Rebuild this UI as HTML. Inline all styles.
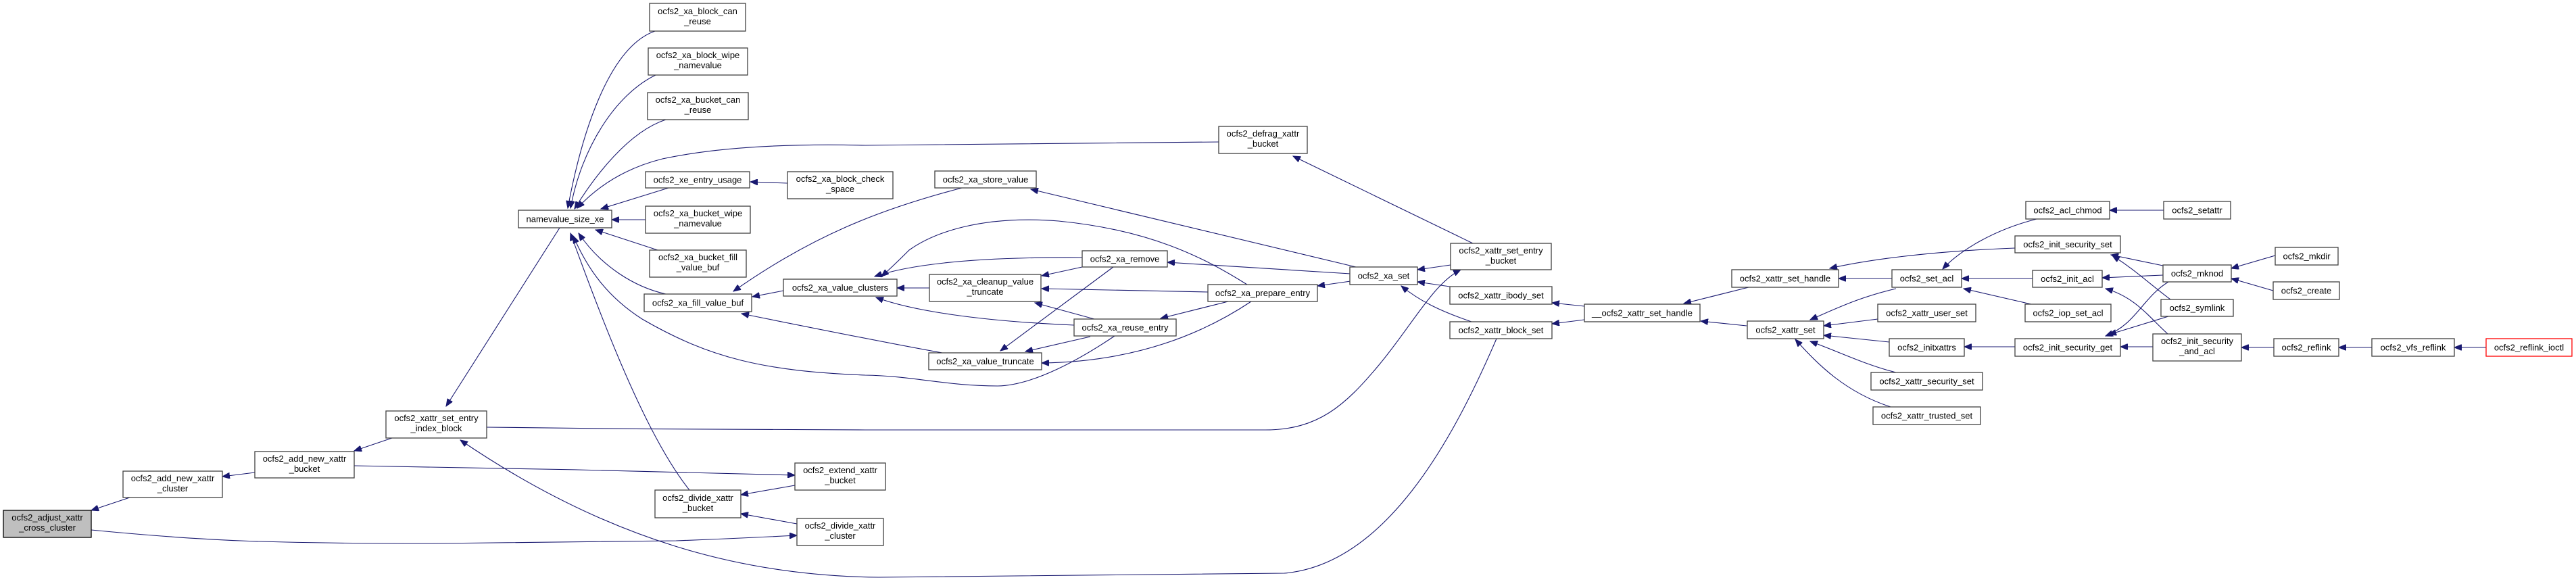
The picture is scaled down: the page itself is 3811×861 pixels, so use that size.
<!DOCTYPE html>
<html><head><meta charset="utf-8"><style>
html,body{margin:0;padding:0;background:#fff;}
svg{display:block;}
text{font-family:"Liberation Sans",Arial,sans-serif;font-size:13px;fill:#000;text-anchor:middle;}
.n{fill:#fff;stroke:#404040;stroke-width:1.3;}
.e{fill:none;stroke:#191970;stroke-width:1.1;marker-end:url(#a);}
</style></head><body>
<svg width="3811" height="861" viewBox="0 0 3811 861" xmlns="http://www.w3.org/2000/svg">
<defs><marker id="a" markerUnits="userSpaceOnUse" markerWidth="12" markerHeight="9" refX="11" refY="4.5" orient="auto"><path d="M0,0 L11,4.5 L0,9 z" fill="#191970" stroke="#191970"/></marker></defs>
<g>
<path class="e" d="M192,736 L135,755"/>
<path class="e" d="M135,784 C300,800 392,804 640,804 L1000,800 C1080,797 1140,794 1179,792"/>
<path class="e" d="M377,699 L329,705"/>
<path class="e" d="M580,648 L524,667"/>
<path class="e" d="M524,689 C700,691 1000,698 1176,703"/>
<path class="e" d="M720,632 C900,635 1200,636 1280,636 L1872,636 C1950,636 1990,600 2040,540 C2090,480 2120,420 2161,399"/>
<path class="e" d="M2214,501 C2150,650 2050,835 1900,848 L1300,854 C1100,852 900,800 681,651"/>
<path class="e" d="M828,337 L660,601"/>
<path class="e" d="M969,46 C900,70 860,200 840,308"/>
<path class="e" d="M970,111 C910,140 860,220 844,308"/>
<path class="e" d="M985,177 C930,195 880,260 850,309"/>
<path class="e" d="M1803,210 L1280,215 C1150,212 1050,220 980,235 C920,250 880,280 854,308"/>
<path class="e" d="M989,278 L889,309"/>
<path class="e" d="M1165,271 L1110,269"/>
<path class="e" d="M955,325 L905,325"/>
<path class="e" d="M973,370 L881,340"/>
<path class="e" d="M985,435 C940,425 890,395 856,345"/>
<path class="e" d="M1649,497 C1600,530 1530,570 1476,571 C1400,571 1350,556 1280,555 C1130,549 1050,530 950,472 C900,440 870,400 848,349"/>
<path class="e" d="M1020,725 C960,650 900,500 844,345"/>
<path class="e" d="M1423,278 C1300,310 1200,350 1085,431"/>
<path class="e" d="M1159,430 L1113,439"/>
<path class="e" d="M1394,522 Q1300,505 1097,464"/>
<path class="e" d="M1375,426 L1327,426"/>
<path class="e" d="M1601,381 C1450,380 1350,390 1294,409"/>
<path class="e" d="M1845,421 C1780,380 1700,340 1566,327 C1450,318 1380,345 1345,370 C1325,390 1312,402 1304,409"/>
<path class="e" d="M1589,481 C1450,475 1350,460 1296,440"/>
<path class="e" d="M1601,395 L1541,408"/>
<path class="e" d="M1787,432 L1541,427"/>
<path class="e" d="M1619,472 L1531,448"/>
<path class="e" d="M1647,395 L1480,519"/>
<path class="e" d="M1613,498 L1517,520"/>
<path class="e" d="M1851,446 C1800,480 1700,535 1541,537"/>
<path class="e" d="M1998,405 L1727,388"/>
<path class="e" d="M1998,416 L1949,423"/>
<path class="e" d="M2006,395 L1525,280"/>
<path class="e" d="M1817,446 L1717,471"/>
<path class="e" d="M2146,392 L2097,399"/>
<path class="e" d="M2145,424 L2097,417"/>
<path class="e" d="M2177,476 C2130,460 2100,445 2073,423"/>
<path class="e" d="M2179,360 L1913,231"/>
<path class="e" d="M2344,453 L2296,448"/>
<path class="e" d="M2344,473 L2296,479"/>
<path class="e" d="M2587,425 L2491,449"/>
<path class="e" d="M2584,482 L2516,475"/>
<path class="e" d="M2981,367 C2850,372 2760,385 2707,397"/>
<path class="e" d="M2799,412 L2720,412"/>
<path class="e" d="M3013,324 C2950,340 2900,370 2874,398"/>
<path class="e" d="M3008,412 L2902,412"/>
<path class="e" d="M3005,450 L2905,427"/>
<path class="e" d="M2805,427 C2750,440 2720,455 2678,473"/>
<path class="e" d="M2778,472 L2698,482"/>
<path class="e" d="M2795,506 L2698,496"/>
<path class="e" d="M2805,551 C2760,540 2720,520 2678,505"/>
<path class="e" d="M2797,602 C2730,580 2690,540 2656,502"/>
<path class="e" d="M2981,513 L2906,513"/>
<path class="e" d="M3201,311 L3121,311"/>
<path class="e" d="M3200,393 L3123,377"/>
<path class="e" d="M3211,443 C3180,420 3160,400 3125,378"/>
<path class="e" d="M3200,407 L3110,411"/>
<path class="e" d="M3207,494 C3180,470 3160,440 3115,427"/>
<path class="e" d="M3208,417 C3170,440 3160,480 3115,497"/>
<path class="e" d="M3208,468 L3120,495"/>
<path class="e" d="M3185,513 L3137,513"/>
<path class="e" d="M3366,378 L3301,397"/>
<path class="e" d="M3363,430 L3301,412"/>
<path class="e" d="M3364,514 L3316,514"/>
<path class="e" d="M3509,514 L3460,514"/>
<path class="e" d="M3678,514 L3631,514"/>
<path class="e" d="M1176,718 L1096,732"/>
<path class="e" d="M1179,775 L1096,760"/>
</g>
<g>
<rect x="5" y="755" width="130" height="40" fill="#bfbfbf" stroke="#000" stroke-width="1.3"/><text x="70" y="770">ocfs2_adjust_xattr</text><text x="70" y="785">_cross_cluster</text>
<rect class="n" x="182" y="697" width="147" height="39"/><text x="255.5" y="712">ocfs2_add_new_xattr</text><text x="255.5" y="727">_cluster</text>
<rect class="n" x="377" y="668" width="147" height="39"/><text x="450.5" y="683">ocfs2_add_new_xattr</text><text x="450.5" y="698">_bucket</text>
<rect class="n" x="571" y="608" width="149" height="40"/><text x="645.5" y="623">ocfs2_xattr_set_entry</text><text x="645.5" y="638">_index_block</text>
<rect class="n" x="961" y="5" width="142" height="41"/><text x="1032" y="21">ocfs2_xa_block_can</text><text x="1032" y="36">_reuse</text>
<rect class="n" x="959" y="71" width="147" height="40"/><text x="1032.5" y="86">ocfs2_xa_block_wipe</text><text x="1032.5" y="101">_namevalue</text>
<rect class="n" x="958" y="137" width="149" height="40"/><text x="1032.5" y="152">ocfs2_xa_bucket_can</text><text x="1032.5" y="167">_reuse</text>
<rect class="n" x="955" y="254" width="154" height="24"/><text x="1032" y="270.5">ocfs2_xe_entry_usage</text>
<rect class="n" x="955" y="305" width="155" height="40"/><text x="1032.5" y="320">ocfs2_xa_bucket_wipe</text><text x="1032.5" y="335">_namevalue</text>
<rect class="n" x="767" y="311" width="138" height="26"/><text x="836" y="328.5">namevalue_size_xe</text>
<rect class="n" x="961" y="370" width="143" height="40"/><text x="1032.5" y="385">ocfs2_xa_bucket_fill</text><text x="1032.5" y="400">_value_buf</text>
<rect class="n" x="953" y="435" width="159" height="26"/><text x="1032.5" y="452.5">ocfs2_xa_fill_value_buf</text>
<rect class="n" x="1165" y="254" width="156" height="40"/><text x="1243" y="269">ocfs2_xa_block_check</text><text x="1243" y="284">_space</text>
<rect class="n" x="1159" y="413" width="168" height="25"/><text x="1243" y="430">ocfs2_xa_value_clusters</text>
<rect class="n" x="1176" y="685" width="134" height="40"/><text x="1243" y="700">ocfs2_extend_xattr</text><text x="1243" y="715">_bucket</text>
<rect class="n" x="969" y="725" width="127" height="41"/><text x="1032.5" y="741">ocfs2_divide_xattr</text><text x="1032.5" y="756">_bucket</text>
<rect class="n" x="1179" y="767" width="128" height="40"/><text x="1243" y="782">ocfs2_divide_xattr</text><text x="1243" y="797">_cluster</text>
<rect class="n" x="1803" y="187" width="131" height="40"/><text x="1868.5" y="202">ocfs2_defrag_xattr</text><text x="1868.5" y="217">_bucket</text>
<rect class="n" x="1383" y="253" width="150" height="25"/><text x="1458" y="270">ocfs2_xa_store_value</text>
<rect class="n" x="1601" y="371" width="126" height="24"/><text x="1664" y="387.5">ocfs2_xa_remove</text>
<rect class="n" x="1375" y="406" width="165" height="40"/><text x="1457.5" y="421">ocfs2_xa_cleanup_value</text><text x="1457.5" y="436">_truncate</text>
<rect class="n" x="1787" y="421" width="162" height="25"/><text x="1868" y="438">ocfs2_xa_prepare_entry</text>
<rect class="n" x="1589" y="472" width="151" height="25"/><text x="1664.5" y="489">ocfs2_xa_reuse_entry</text>
<rect class="n" x="1374" y="522" width="167" height="25"/><text x="1457.5" y="539">ocfs2_xa_value_truncate</text>
<rect class="n" x="2146" y="360" width="149" height="39"/><text x="2220.5" y="375">ocfs2_xattr_set_entry</text><text x="2220.5" y="390">_bucket</text>
<rect class="n" x="1997" y="395" width="100" height="26"/><text x="2047" y="412.5">ocfs2_xa_set</text>
<rect class="n" x="2145" y="424" width="151" height="26"/><text x="2220.5" y="441.5">ocfs2_xattr_ibody_set</text>
<rect class="n" x="2145" y="476" width="151" height="25"/><text x="2220.5" y="493">ocfs2_xattr_block_set</text>
<rect class="n" x="2344" y="450" width="171" height="26"/><text x="2429.5" y="467.5">__ocfs2_xattr_set_handle</text>
<rect class="n" x="2997" y="298" width="124" height="26"/><text x="3059" y="315.5">ocfs2_acl_chmod</text>
<rect class="n" x="2981" y="349" width="156" height="25"/><text x="3059" y="366">ocfs2_init_security_set</text>
<rect class="n" x="2562" y="399" width="158" height="26"/><text x="2641" y="416.5">ocfs2_xattr_set_handle</text>
<rect class="n" x="2799" y="399" width="103" height="26"/><text x="2850.5" y="416.5">ocfs2_set_acl</text>
<rect class="n" x="3007" y="400" width="103" height="25"/><text x="3058.5" y="417">ocfs2_init_acl</text>
<rect class="n" x="2778" y="450" width="145" height="26"/><text x="2850.5" y="467.5">ocfs2_xattr_user_set</text>
<rect class="n" x="2996" y="450" width="127" height="26"/><text x="3059.5" y="467.5">ocfs2_iop_set_acl</text>
<rect class="n" x="2585" y="475" width="113" height="26"/><text x="2641.5" y="492.5">ocfs2_xattr_set</text>
<rect class="n" x="2795" y="501" width="111" height="26"/><text x="2850.5" y="518.5">ocfs2_initxattrs</text>
<rect class="n" x="2981" y="501" width="156" height="26"/><text x="3059" y="518.5">ocfs2_init_security_get</text>
<rect class="n" x="2768" y="551" width="165" height="26"/><text x="2850.5" y="568.5">ocfs2_xattr_security_set</text>
<rect class="n" x="2771" y="602" width="159" height="26"/><text x="2850.5" y="619.5">ocfs2_xattr_trusted_set</text>
<rect class="n" x="3201" y="298" width="99" height="26"/><text x="3250.5" y="315.5">ocfs2_setattr</text>
<rect class="n" x="3366" y="366" width="93" height="26"/><text x="3412.5" y="383.5">ocfs2_mkdir</text>
<rect class="n" x="3200" y="392" width="101" height="25"/><text x="3250.5" y="409">ocfs2_mknod</text>
<rect class="n" x="3363" y="417" width="98" height="26"/><text x="3412" y="434.5">ocfs2_create</text>
<rect class="n" x="3197" y="443" width="107" height="25"/><text x="3250.5" y="460">ocfs2_symlink</text>
<rect class="n" x="3185" y="494" width="131" height="40"/><text x="3250.5" y="509">ocfs2_init_security</text><text x="3250.5" y="524">_and_acl</text>
<rect class="n" x="3364" y="501" width="96" height="26"/><text x="3412" y="518.5">ocfs2_reflink</text>
<rect class="n" x="3509" y="501" width="122" height="26"/><text x="3570" y="518.5">ocfs2_vfs_reflink</text>
<rect x="3678" y="501" width="127" height="26" fill="#fff" stroke="#ff0000" stroke-width="1.3"/><text x="3741.5" y="518.5">ocfs2_reflink_ioctl</text>
</g>
</svg>
</body></html>
